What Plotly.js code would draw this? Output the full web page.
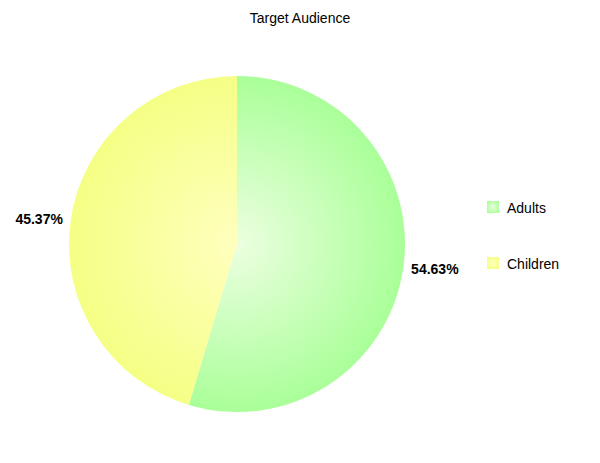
<!DOCTYPE html>
<html>
<head>
<meta charset="utf-8">
<script src="https://cdn.plot.ly/plotly-3.0.1.min.js"></script>
<style>
html,body{margin:0;padding:0;background:#fff;}
#chart{width:600px;height:463px;}
</style>
</head>
<body>
<div id="chart"></div>
<script>
// ---- data ----
var categories = ['Adults', 'Children'];
var shares = [54.63, 45.37];
var chartTitle = 'Target Audience';

// ---- style ----
var edgeColors = ['#aaff99', '#f5ff85'];
var centerColors = ['#ecffe0', '#ffffbe'];
var FONT = 'Liberation Sans, Arial, Helvetica, sans-serif';
var NB = '\u00A0';

var W = 600, H = 463;

var trace = {
  type: 'pie',
  labels: categories,
  values: shares,
  sort: false,
  direction: 'clockwise',
  rotation: 0,
  textinfo: 'percent',
  texttemplate: [NB + '%{percent:.2%}', '%{percent:.2%}' + NB],
  textposition: 'outside',
  textfont: {family: FONT, size: 14, color: '#000', weight: 'bold'},
  marker: {colors: edgeColors, line: {width: 0}},
  hoverinfo: 'label+percent',
  showlegend: false,
  domain: {x: [69 / W, 405 / W], y: [1 - 412 / H, 1 - 76 / H]}
};

// custom legend built from the category list
var shapes = [], annotations = [];
var legX = 487, legY0 = 207, legGap = 56, sq = 12;
categories.forEach(function (c, i) {
  var yc = legY0 + i * legGap;
  shapes.push({
    type: 'rect', xref: 'paper', yref: 'paper',
    x0: legX / W, x1: (legX + sq) / W,
    y0: 1 - (yc + sq / 2) / H, y1: 1 - (yc - sq / 2) / H,
    fillcolor: edgeColors[i], line: {width: 0}
  });
  annotations.push({
    xref: 'paper', yref: 'paper', x: (legX + sq + 6) / W, y: 1 - (yc + 1) / H,
    xanchor: 'left', yanchor: 'middle', showarrow: false, text: c,
    font: {family: FONT, size: 14, color: '#000'}
  });
});

var layout = {
  width: W, height: H,
  margin: {l: 0, r: 0, t: 0, b: 0},
  paper_bgcolor: '#fff',
  title: {text: chartTitle, font: {family: FONT, size: 14, color: '#000'},
          x: 0.5, xanchor: 'center', y: 1 - 18 / H, yanchor: 'middle'},
  showlegend: false,
  shapes: shapes,
  annotations: annotations
};

function addGradients(gd) {
  var svg = gd.querySelector('.main-svg');
  if (!svg) return;
  var NS = 'http://www.w3.org/2000/svg';
  var defs = svg.querySelector('defs');
  if (!defs) { defs = document.createElementNS(NS, 'defs'); svg.insertBefore(defs, svg.firstChild); }
  var slices = gd.querySelectorAll('.pielayer .slice path.surface');
  var cd = gd.calcdata && gd.calcdata[0] && gd.calcdata[0][0];
  var r = cd ? cd.r : 168;
  slices.forEach(function (p, i) {
    var d = p.getAttribute('d') || '';
    var m = d.match(/M\s*([-\d.eE]+)[ ,]+([-\d.eE]+)/);
    if (!m) return;
    var cx = parseFloat(m[1]), cy = parseFloat(m[2]);
    var id = 'pieGrad' + i;
    var old = defs.querySelector('#' + id); if (old) old.remove();
    var g = document.createElementNS(NS, 'radialGradient');
    g.setAttribute('id', id);
    g.setAttribute('gradientUnits', 'userSpaceOnUse');
    g.setAttribute('cx', cx); g.setAttribute('cy', cy); g.setAttribute('r', r);
    [[0, centerColors[i]], [1, edgeColors[i]]].forEach(function (s) {
      var st = document.createElementNS(NS, 'stop');
      st.setAttribute('offset', s[0]); st.setAttribute('stop-color', s[1]);
      g.appendChild(st);
    });
    defs.appendChild(g);
    p.style.fill = 'url(#' + id + ')';
  });
  var rects = gd.querySelectorAll('.shapelayer path');
  rects.forEach(function (p, i) {
    var id = 'legGrad' + i;
    var old = defs.querySelector('#' + id); if (old) old.remove();
    var g = document.createElementNS(NS, 'radialGradient');
    g.setAttribute('id', id);
    g.setAttribute('cx', '0.5'); g.setAttribute('cy', '0.5'); g.setAttribute('r', '0.6');
    [[0, centerColors[i % 2]], [1, edgeColors[i % 2]]].forEach(function (s) {
      var st = document.createElementNS(NS, 'stop');
      st.setAttribute('offset', s[0]); st.setAttribute('stop-color', s[1]);
      g.appendChild(st);
    });
    defs.appendChild(g);
    p.style.fill = 'url(#' + id + ')';
  });
}

var gd = document.getElementById('chart');
Plotly.newPlot(gd, [trace], layout, {displayModeBar: false, staticPlot: true}).then(function () {
  addGradients(gd);
  gd.on('plotly_afterplot', function () { addGradients(gd); });
});
</script>
</body>
</html>
